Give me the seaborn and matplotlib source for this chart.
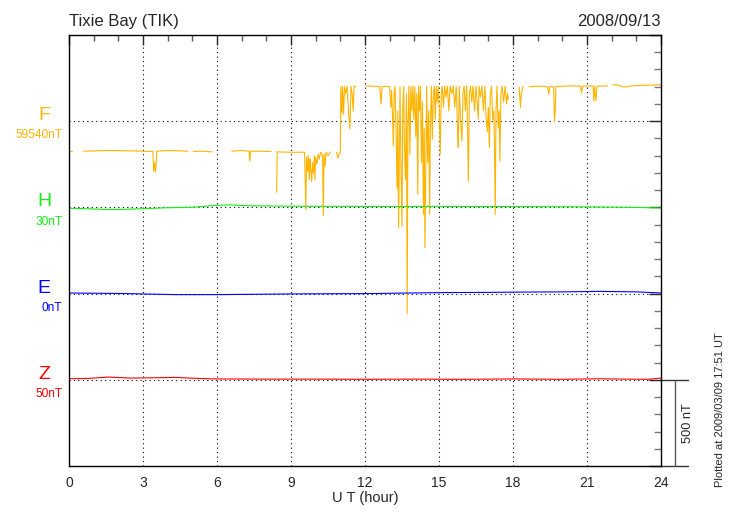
import numpy as np
import pandas as pd
import seaborn as sns
import matplotlib.pyplot as plt

nan = np.nan

# Components, base values (nT at the reference line) and colours
components = ['F', 'H', 'E', 'Z']
base_nt = [59540, 30, 0, 50]
offsets = [2000, 1500, 1000, 500]
colors = ['#ffb400', '#10f010', '#0000ff', '#ff0000']

# F (total field), nan = data gap
f_hours = [0.0, 0.12, nan,
           0.6, 1.5, 2.5, 3.0, 3.40, 3.43, 3.47, 3.50, 3.53, 3.56, 4.0, 4.5, 4.81, nan,
           5.04, 5.4, 5.8, nan,
           6.6, 7.0, 7.30, 7.33, 7.36, 7.8, 8.19, nan,
           8.42, 8.44, 9.0, 9.55, 9.60, 9.63, 9.67, 9.70, 9.74, 9.77, 9.80, 9.84, 9.87, 9.91,
           9.95, 9.97, 10.00, 10.05, 10.10, 10.15, 10.20, 10.28, 10.31, 10.34, 10.38, 10.42,
           10.50, 10.60, nan,
           10.85, 10.90, 10.95, 11.00, 11.02, 11.06, 11.09, 11.13, 11.17, 11.22, 11.27, 11.33,
           11.39, 11.43, 11.48, 11.52, 11.56, 11.63, nan,
           12.04, 12.3, 12.6, 12.65, 12.69, 12.9, 13.0,
           13.05, 13.08, 13.12, 13.15, 13.18, 13.22, 13.26, 13.30, 13.33, 13.36, 13.39, 13.42,
           13.46, 13.50, 13.53, 13.57, 13.60, 13.64, 13.68, 13.71, 13.74, 13.78, 13.82, 13.86,
           13.90, 13.94, 13.98, 14.02, 14.06, 14.10, 14.14, 14.17, 14.21, 14.25, 14.29, 14.33,
           14.37, 14.40, 14.43, 14.46, 14.50, 14.54, 14.58, 14.62, 14.65, 14.69, 14.73, 14.77,
           14.81, 14.85, 14.89, 14.93, 14.97, 15.01, 15.05, 15.09, 15.13, 15.18, 15.23, 15.28,
           15.34, 15.40, 15.45, 15.52, 15.58, 15.64, 15.70, 15.75, 15.78, 15.82, 15.87, 15.93,
           15.97, 16.02, 16.07, 16.12, 16.16, 16.19, 16.23, 16.28, 16.33, 16.38, 16.44, 16.50,
           16.55, 16.59, 16.63, 16.68, 16.74, 16.80, 16.86, 16.91, 16.96, 17.00, 17.04, 17.08,
           17.13, 17.18, 17.22, 17.25, 17.28, 17.31, 17.35, 17.40, 17.44, 17.47, 17.51, 17.56,
           17.62, 17.68, 17.74, 17.78, 17.81, nan,
           18.25, 18.30, 18.34, 18.40, nan,
           18.66, 19.0, 19.4, 19.45, 19.49, 19.65, 19.68, 19.71, 19.74, 20.3, 20.74, 20.78,
           20.82, 21.25, 21.28, 21.31, 21.36, 21.40, 21.83, nan,
           22.04, 22.2, 22.5, 22.8, 23.3, 23.8, 24.0]
f_nt = [59366, 59366, nan,
        59366, 59370, 59368, 59366, 59364, 59250, 59300, 59245, 59280, 59366, 59370, 59368, 59366, nan,
        59364, 59366, 59362, nan,
        59366, 59370, 59366, 59310, 59366, 59366, 59364, nan,
        59127, 59362, 59360, 59360, 59028, 59330, 59250, 59340, 59200, 59320, 59260, 59190, 59300, 59240,
        59340, 59200, 59330, 59290, 59350, 59320, 59360, 59340, 58993, 59350, 59280, 59360,
        59340, 59360, nan,
        59360, 59325, 59350, 59360, 59740, 59590, 59743, 59580, 59740, 59700, 59743, 59600,
        59495, 59743, 59700, 59600, 59743, 59740, nan,
        59745, 59743, 59740, 59640, 59740, 59742, 59740,
        59620, 59720, 59550, 59396, 59700, 59743, 59480, 59150, 59600, 58924, 59300, 59740,
        59250, 58930, 59600, 59743, 59400, 59200, 59700, 58424, 59500, 59743, 59348, 59740,
        59600, 59743, 59550, 59740, 59450, 59700, 59116, 59743, 59600, 59743, 59300, 59650,
        59000, 59500, 58807, 59200, 59743, 59300, 59600, 58999, 59500, 59743, 59435, 59700,
        59743, 59550, 59740, 59650, 59743, 59600, 59348, 59700, 59743, 59620, 59743, 59680,
        59743, 59600, 59743, 59700, 59743, 59620, 59740, 59500, 59389, 59743, 59550, 59425,
        59700, 59743, 59600, 59743, 59500, 59193, 59700, 59743, 59650, 59743, 59600, 59743,
        59640, 59552, 59743, 59680, 59743, 59600, 59743, 59560, 59480, 59620, 59389, 59700,
        59743, 59550, 59600, 59400, 58999, 59600, 59743, 59500, 59600, 59309, 59700, 59743,
        59650, 59743, 59640, 59700, 59668, nan,
        59740, 59621, 59700, 59740, nan,
        59740, 59743, 59740, 59697, 59740, 59740, 59538, 59600, 59740, 59745, 59743, 59703,
        59743, 59745, 59656, 59740, 59660, 59743, 59745, nan,
        59750, 59752, 59738, 59745, 59748, 59750, 59752]

# H, E, Z
h_hours = [0, 0.8, 1.66, 2.5, 3.1, 4.0, 5.0, 5.8, 6.5, 7.0, 7.5, 9.06, 10.5, 12, 13.5, 15, 16.5, 18, 19.5, 21, 22.5, 24]
h_nt = [25, 22, 17, 20, 23, 28, 31, 40, 45, 41, 39, 37, 36, 36, 35, 36, 35, 35, 34, 33, 31, 27]
e_hours = [0, 1, 2, 3, 4.3, 6, 7.5, 9, 10.5, 12.2, 13.5, 15.3, 17, 18.5, 20, 21.5, 23, 24]
e_nt = [3.5, 2, 1, -2, -6, -6, -4, -2, -1, 0, 3, 6, 7, 9, 10, 13, 10, 3.5]
z_hours = [0, 0.8, 1.6, 2.5, 3.5, 4.3, 5.2, 6, 8, 10, 12, 14, 16, 18, 20, 21.5, 22.5, 23.5, 24]
z_nt = [56, 58, 66, 60, 62, 64, 58, 55, 54, 54, 53, 54, 53, 55, 53, 56, 54, 53, 60]

hour_ticks = list(range(0, 25, 3))
scale_nt = 500

# build one long table, one unit per continuous segment
rows = []
series = [(f_hours, f_nt), (h_hours, h_nt), (e_hours, e_nt), (z_hours, z_nt)]
for comp, base, off, (hrs, vals) in zip(components, base_nt, offsets, series):
    seg = 0
    for t, v in zip(hrs, vals):
        if np.isnan(v):
            seg += 1
            continue
        rows.append({'hour': t, 'plot': off + (v - base), 'comp': comp, 'seg': f'{comp}{seg}'})
df = pd.DataFrame(rows)

sns.set_style('white')
plt.rcParams['font.family'] = ['Liberation Sans', 'DejaVu Sans']

fig = plt.figure(figsize=(7.3, 5.2), dpi=100)
ax = fig.add_axes([69 / 730, 54 / 520, 592 / 730, 431 / 520])

sns.lineplot(data=df, x='hour', y='plot', hue='comp', units='seg', estimator=None,
             palette=dict(zip(components, colors)), legend=False, lw=0.8, ax=ax, sort=False)

ax.set_xlim(0, 24)
ax.set_ylim(0, 2500)

# dotted grid
for off in offsets:
    ax.axhline(off, color='black', lw=0.8, ls=(0, (1, 3)), zorder=0)
for h in hour_ticks[1:-1]:
    ax.axvline(h, color='black', lw=0.8, ls=(0, (1, 3)), zorder=0)

ax.set_xticks(hour_ticks)
ax.set_xticks(range(25), minor=True)
ax.set_yticks(range(0, 2501, 500))
ax.set_yticks(range(0, 2501, 100), minor=True)
ax.set_yticklabels([])
ax.tick_params(axis='both', which='both', direction='in', top=True, right=True, width=1)
ax.tick_params(axis='x', which='major', length=7, labelsize=10, pad=7)
ax.tick_params(axis='x', which='minor', length=4, color='#555555')
ax.tick_params(axis='y', which='major', length=9)
ax.tick_params(axis='y', which='minor', length=5, color='#777777')
for s in ax.spines.values():
    s.set_color('black')
    s.set_linewidth(1)
ax.set_xlabel('U T (hour)', fontsize=10.5, labelpad=1)
ax.set_ylabel('')

# component labels on the left
for comp, base, off, c in zip(components, base_nt, offsets, colors):
    ax.text(-1.0, off + 32, comp, color=c, fontsize=14, ha='center', va='center', clip_on=False)
    ax.text(-0.27, off - 82, f'{base}nT', color=c, fontsize=8.6, ha='right', va='center', clip_on=False)

# scale bar on the right
ax.plot([24, 25.1], [scale_nt, scale_nt], color='#333333', lw=1, clip_on=False)
ax.plot([24, 25.1], [0, 0], color='#333333', lw=1, clip_on=False)
ax.plot([24.57, 24.57], [0, scale_nt], color='#555555', lw=1, clip_on=False)
ax.text(25.1, scale_nt / 2, f'{scale_nt} nT', rotation=90, fontsize=9.2, ha='center', va='center', clip_on=False)

fig.text(69 / 730, 1 - 26 / 520, 'Tixie Bay (TIK)', fontsize=12, ha='left', va='baseline')
fig.text(661 / 730, 1 - 26 / 520, '2008/09/13', fontsize=12, ha='right', va='baseline')
fig.text(720 / 730, 1 - 410 / 520, 'Plotted at 2009/03/09 17:51 UT', fontsize=8, rotation=90,
         ha='center', va='center')

fig.savefig('out.png', dpi=100)
